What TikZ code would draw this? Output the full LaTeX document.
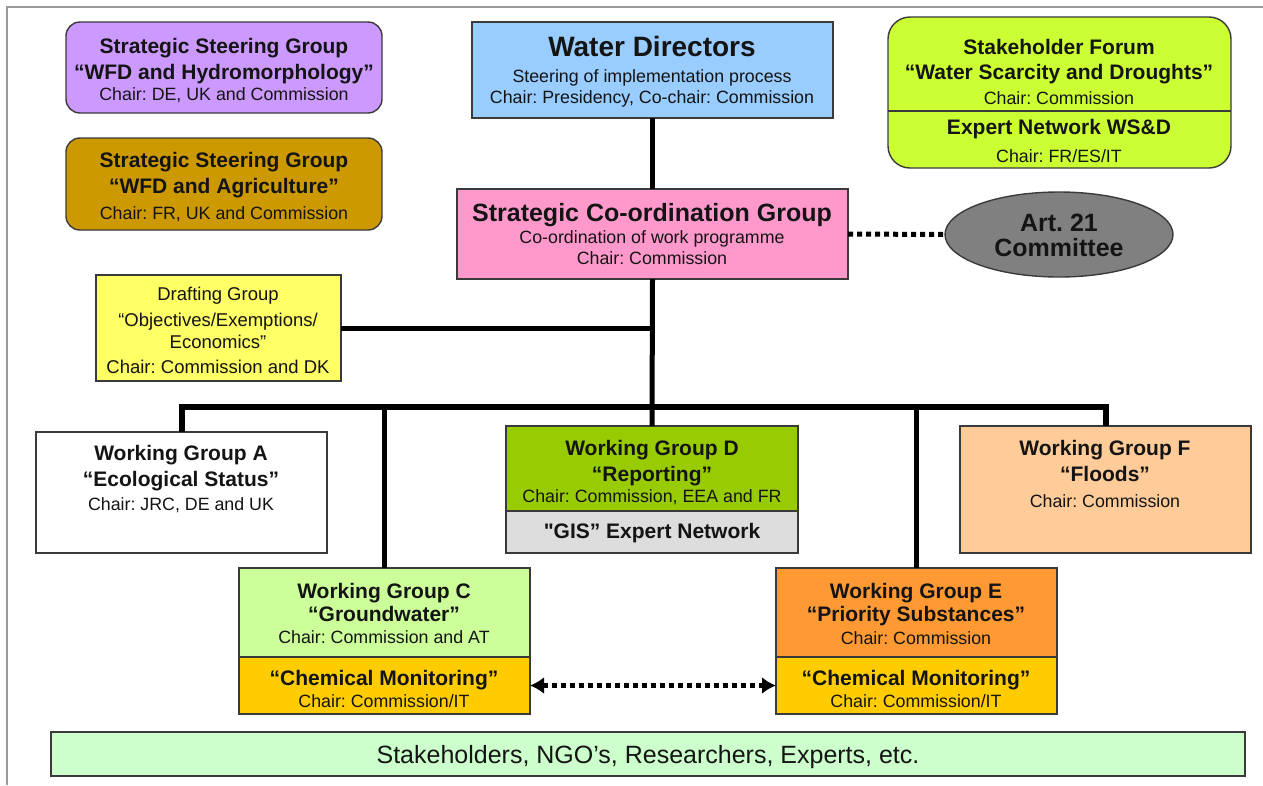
\documentclass[tikz,border=0pt]{standalone}
\usepackage{fontspec}
\setmainfont{Liberation Sans}
\usetikzlibrary{shapes.geometric,arrows.meta}
\definecolor{cHydro}{HTML}{CC99FF}
\definecolor{cAgri}{HTML}{CC9900}
\definecolor{cWD}{HTML}{99CCFF}
\definecolor{cSCG}{HTML}{FF99CC}
\definecolor{cSF}{HTML}{CCFF33}
\definecolor{cArt}{HTML}{808080}
\definecolor{cDG}{HTML}{FFFF66}
\definecolor{cWGD}{HTML}{99CC00}
\definecolor{cGIS}{HTML}{DDDDDD}
\definecolor{cWGF}{HTML}{FFCC99}
\definecolor{cWGC}{HTML}{CCFF99}
\definecolor{cChem}{HTML}{FFCC00}
\definecolor{cWGE}{HTML}{FF9933}
\definecolor{cBar}{HTML}{CCFFCC}
\definecolor{boxline}{HTML}{3A3A3A}
\definecolor{txt}{HTML}{141414}
\definecolor{framegrey}{HTML}{9A9A9A}
\frenchspacing
\begin{document}
\frenchspacing
\begin{tikzpicture}[x=1pt,y=-1pt,
  box/.style={draw=boxline, line width=1.4pt, inner sep=0pt, outer sep=0pt},
  tline/.style={inner sep=0pt, text depth=0pt, text=txt, anchor=center},
  tb/.style={tline, text height=15.1pt, font=\fontsize{21}{24}\selectfont\bfseries\frenchspacing},
  tr/.style={tline, text height=12.8pt, font=\fontsize{17.8}{20}\selectfont\frenchspacing},
  tdg/.style={tline, text height=13.3pt, font=\fontsize{18.5}{21}\selectfont\frenchspacing},
  tbig/.style={tline, text height=18pt, font=\fontsize{25}{28}\selectfont\bfseries\frenchspacing},
  twd/.style={tline, text height=20.2pt, font=\fontsize{28}{32}\selectfont\bfseries\frenchspacing},
  tbar/.style={tline, text height=18pt, font=\fontsize{25}{28}\selectfont\frenchspacing},
  conn/.style={line width=5pt, draw=black},
  busc/.style={line width=6pt, draw=black},
  dotc/.style={line width=5pt, draw=black, dash pattern=on 5pt off 4pt},
  dotarrow/.style={line width=5pt, draw=black, dash pattern=on 5pt off 4pt,
    {Latex[length=14pt,width=17pt]}-{Latex[length=14pt,width=17pt]}},
  framec/.style={line width=1.5pt, draw=framegrey}
]
\useasboundingbox (0,0) rectangle (1263,785);
\draw[framec] (7,785) -- (7,7) -- (1263,7);

% ---- boxes ----
\node[box, fill=cHydro, rounded corners=14pt, minimum width=316pt, minimum height=91pt] (ssgh) at (224,67.5) {};
\node[box, fill=cAgri, rounded corners=14pt, minimum width=316pt, minimum height=92pt] (ssga) at (224,184) {};
\node[box, fill=cWD, minimum width=361pt, minimum height=96pt] (wd) at (652.5,70) {};
\node[box, fill=cSCG, minimum width=391pt, minimum height=90pt] (scg) at (652.5,234) {};
\node[box, fill=cSF, rounded corners=22pt, minimum width=343pt, minimum height=151pt] (sf) at (1059.5,92.5) {};
\coordinate (sfdiv) at (0,111);
\draw[draw=boxline, line width=1.4pt] (sf.west |- sfdiv) -- (sf.east |- sfdiv);
\node[box, fill=cArt, ellipse, minimum width=228pt, minimum height=85pt] (art) at (1059,234.5) {};
\node[box, fill=cDG, minimum width=245pt, minimum height=106pt] (dg) at (218.5,328) {};
\node[box, fill=white, minimum width=291pt, minimum height=121pt] (wga) at (181.5,492.5) {};
\node[box, fill=cWGD, minimum width=292pt, minimum height=85pt] (wgd) at (652,468.5) {};
\node[box, fill=cGIS, minimum width=292pt, minimum height=42pt] (gis) at (652,532) {};
\node[box, fill=cWGF, minimum width=291pt, minimum height=127pt] (wgf) at (1105.5,489.5) {};
\node[box, fill=cWGC, minimum width=291pt, minimum height=89pt] (wgc) at (384.5,612.5) {};
\node[box, fill=cChem, minimum width=291pt, minimum height=57pt] (chc) at (384.5,685.5) {};
\node[box, fill=cWGE, minimum width=281pt, minimum height=89pt] (wge) at (916.5,612.5) {};
\node[box, fill=cChem, minimum width=281pt, minimum height=57pt] (che) at (916.5,685.5) {};
\node[box, fill=cBar, minimum width=1194pt, minimum height=44pt] (bar) at (648,754) {};

% ---- texts ----
\node[tb] (ssgh1) at (224,46) {Strategic Steering Group};
\node[tb] (ssgh2) at (224,72) {“WFD and Hydromorphology”};
\node[tr] (ssgh3) at (224,94) {Chair: DE, UK and Commission};

\node[tb] (ssga1) at (224,160) {Strategic Steering Group};
\node[tb] (ssga2) at (224,186) {“WFD and Agriculture”};
\node[tr] (ssga3) at (224,213) {Chair: FR, UK and Commission};

\node[twd] (wd1) at (652,46) {Water Directors};
\node[tr] (wd2) at (652,76) {Steering of implementation process};
\node[tr] (wd3) at (652,97) {Chair: Presidency, Co-chair: Commission};

\node[tbig] (scg1) at (652,212) {Strategic Co-ordination Group};
\node[tr] (scg2) at (652,237) {Co-ordination of work programme};
\node[tr] (scg3) at (652,258) {Chair: Commission};

\node[tb] (sf1) at (1059,47) {Stakeholder Forum};
\node[tb] (sf2) at (1059,72) {“Water Scarcity and Droughts”};
\node[tr] (sf3) at (1059,98) {Chair: Commission};
\node[tb] (sf4) at (1059,127) {Expert Network WS\&D};
\node[tr] (sf5) at (1059,156) {Chair: FR/ES/IT};

\node[tbig] (art1) at (1059,222) {Art. 21};
\node[tbig] (art2) at (1059,247) {Committee};

\node[tdg] (dg1) at (218,294) {Drafting Group};
\node[tdg] (dg2) at (218,320) {“Objectives/Exemptions/};
\node[tdg] (dg3) at (218,342) {Economics”};
\node[tdg] (dg4) at (218,367) {Chair: Commission and DK};

\node[tb] (wga1) at (181,453) {Working Group A};
\node[tb] (wga2) at (181,479) {“Ecological Status”};
\node[tr] (wga3) at (181,504) {Chair: JRC, DE and UK};

\node[tb] (wgd1) at (652,448) {Working Group D};
\node[tb] (wgd2) at (652,474) {“Reporting”};
\node[tr] (wgd3) at (652,496) {Chair: Commission, EEA and FR};
\node[tb] (gis1) at (652,531) {\textquotedbl GIS” Expert Network};

\node[tb] (wgf1) at (1105,448) {Working Group F};
\node[tb] (wgf2) at (1105,474) {“Floods”};
\node[tr] (wgf3) at (1105,501) {Chair: Commission};

\node[tb] (wgc1) at (384,591) {Working Group C};
\node[tb] (wgc2) at (384,614) {“Groundwater”};
\node[tr] (wgc3) at (384,637) {Chair: Commission and AT};
\node[tb] (chc1) at (384,678) {“Chemical Monitoring”};
\node[tr] (chc2) at (384,701) {Chair: Commission/IT};

\node[tb] (wge1) at (916,591) {Working Group E};
\node[tb] (wge2) at (916,614) {“Priority Substances”};
\node[tr] (wge3) at (916,638) {Chair: Commission};
\node[tb] (che1) at (916,678) {“Chemical Monitoring”};
\node[tr] (che2) at (916,701) {Chair: Commission/IT};

\node[tbar] (bar1) at (648,754) {Stakeholders, NGO’s, Researchers, Experts, etc.};

% ---- connectors ----
\draw[conn] (wd.south) -- (scg.north);
\draw[dotc] (scg.east) -- (art.west);
\draw[conn] (scg.south) -- (wgd.north);
\draw[conn] (dg.east) -- (dg.east -| scg.south);
\coordinate (bus) at (652,407);
\draw[busc] (wga.north) |- (bus) -| (wgf.north);
\draw[conn] (wgc.north) -- (wgc.north |- bus);
\draw[conn] (wge.north) -- (wge.north |- bus);
\draw[dotarrow] (chc.east) -- (che.west);
\end{tikzpicture}
\end{document}
